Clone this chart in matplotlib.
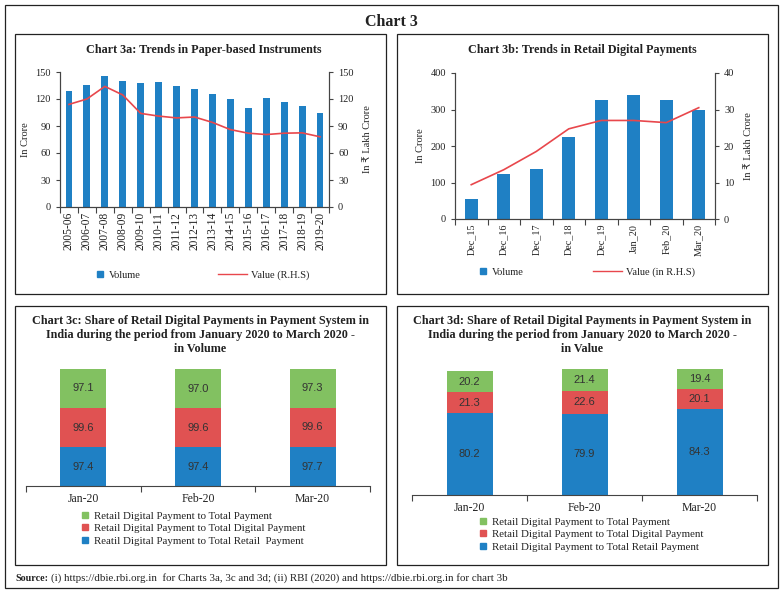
import matplotlib.pyplot as plt
from matplotlib.patches import Rectangle
from matplotlib.lines import Line2D

# Chart 3a data
years = ['2005-06', '2006-07', '2007-08', '2008-09', '2009-10', '2010-11', '2011-12',
         '2012-13', '2013-14', '2014-15', '2015-16', '2016-17', '2017-18', '2018-19', '2019-20']
paper_volume = [129, 136, 146, 140, 138, 139, 134, 131.5, 126, 120, 110, 121, 117, 112, 104]
paper_value = [114, 120, 134, 124.5, 104, 101, 99, 100, 94, 86, 82, 80.5, 82, 82.4, 78]

# Chart 3b data
periods = ['Dec_15', 'Dec_16', 'Dec_17', 'Dec_18', 'Dec_19', 'Jan_20', 'Feb_20', 'Mar_20']
digital_volume = [56, 123, 136, 224, 327, 339, 327, 300]
digital_value = [9.4, 13.5, 18.5, 24.7, 27.0, 27.0, 26.4, 30.5]

# Chart 3c / 3d data
months = ['Jan-20', 'Feb-20', 'Mar-20']
vol_retail = [97.4, 97.4, 97.7]
vol_digital = [99.6, 99.6, 99.6]
vol_total = [97.1, 97.0, 97.3]
val_retail = [80.2, 79.9, 84.3]
val_digital = [21.3, 22.6, 20.1]
val_total = [20.2, 21.4, 19.4]

BLUE = '#1f80c4'
RED = '#e05252'
GREEN = '#82c161'
LINE = '#e8474c'
SERIF = ['Liberation Serif', 'DejaVu Serif']
SANS = ['Liberation Sans', 'DejaVu Sans']
TXT = '#222222'

plt.rcParams['font.family'] = SERIF
plt.rcParams['axes.edgecolor'] = '#444444'
plt.rcParams['xtick.color'] = '#444444'
plt.rcParams['ytick.color'] = '#444444'
plt.rcParams['xtick.labelcolor'] = TXT
plt.rcParams['ytick.labelcolor'] = TXT

W, H = 783, 593
fig = plt.figure(figsize=(W / 100, H / 100), dpi=100)


def fx(x):
    return x / W


def fy(y):
    return 1 - y / H


def ax_at(l, t, r, b):
    return fig.add_axes([fx(l), fy(b), (r - l) / W, (b - t) / H])


def box(l, t, r, b):
    fig.patches.append(Rectangle((fx(l), fy(b)), (r - l) / W, (b - t) / H, fill=False,
                                 lw=0.9, edgecolor='#222222', transform=fig.transFigure))


def legend_item(handle, label, x, y, hl, size=7.5):
    # one legend entry; x is the left edge of the handle, y the middle of the row
    fig.legend([handle], [label], loc='center left', bbox_to_anchor=(fx(x), fy(y)),
               frameon=False, fontsize=size, handlelength=hl, handletextpad=0.4,
               borderpad=0, borderaxespad=0, labelcolor=TXT)


box(5, 5, 778, 588)
box(15, 34, 386, 294)
box(397, 34, 768, 294)
box(15, 306, 386, 565)
box(397, 306, 768, 565)

fig.text(fx(391), fy(22), 'Chart 3', ha='center', va='center', fontsize=11.5,
         fontweight='bold', color=TXT)


def boundary_ticks(ax, n):
    ax.set_xticks(range(n))
    ax.set_xticks([i - 0.5 for i in range(n + 1)], minor=True)
    ax.tick_params(axis='x', which='major', length=0)
    ax.tick_params(axis='x', which='minor', length=4, width=0.8, direction='out')
    ax.set_xlim(-0.5, n - 0.5)


vol_handle = Line2D([], [], marker='s', ls='none', color=BLUE, markersize=5)
val_handle = Line2D([], [], color=LINE, lw=1)

# ---- Chart 3a ----
ax = ax_at(60, 72, 329, 207)
x = range(len(years))
ax.bar(x, paper_volume, width=0.38, color=BLUE)
ax.set_ylim(0, 150)
ax.set_yticks(range(0, 151, 30))
boundary_ticks(ax, len(years))
ax.set_xticklabels(years, rotation=90, fontsize=8.3)
ax.tick_params(axis='y', labelsize=7.5, length=3, width=0.8)
ax.spines['top'].set_visible(False)
ax.set_ylabel('In Crore', fontsize=7.5, color=TXT, labelpad=4)
ax2 = ax.twinx()
ax2.plot(x, paper_value, color=LINE, lw=1.2)
ax2.set_ylim(0, 150)
ax2.set_yticks(range(0, 151, 30))
ax2.tick_params(axis='y', labelsize=7.5, length=3, width=0.8)
ax2.spines['top'].set_visible(False)
ax2.set_ylabel('In ₹ Lakh Crore', fontsize=7.5, color=TXT, labelpad=7,
               family=['Liberation Serif', 'DejaVu Sans'])
fig.text(fx(204), fy(50), 'Chart 3a: Trends in Paper-based Instruments', ha='center',
         va='center', fontsize=8.7, fontweight='bold', color=TXT)
legend_item(vol_handle, 'Volume', 96, 275, 0.8)
legend_item(val_handle, 'Value (R.H.S)', 218, 275, 2.8)

# ---- Chart 3b ----
ax = ax_at(455, 73, 715, 219)
x = range(len(periods))
ax.bar(x, digital_volume, width=0.4, color=BLUE)
ax.set_ylim(0, 400)
ax.set_yticks(range(0, 401, 100))
boundary_ticks(ax, len(periods))
ax.set_xticklabels(periods, rotation=90, fontsize=7.3)
ax.tick_params(axis='y', labelsize=7.5, length=3, width=0.8)
ax.spines['top'].set_visible(False)
ax.set_ylabel('In Crore', fontsize=7.5, color=TXT, labelpad=4)
ax2 = ax.twinx()
ax2.plot(x, digital_value, color=LINE, lw=1.2)
ax2.set_ylim(0, 40)
ax2.set_yticks(range(0, 41, 10))
ax2.tick_params(axis='y', labelsize=7.5, length=3, width=0.8)
ax2.spines['top'].set_visible(False)
ax2.set_ylabel('In ₹ Lakh Crore', fontsize=7.5, color=TXT, labelpad=7,
               family=['Liberation Serif', 'DejaVu Sans'])
fig.text(fx(582), fy(50), 'Chart 3b: Trends in Retail Digital Payments', ha='center',
         va='center', fontsize=8.7, fontweight='bold', color=TXT)
legend_item(vol_handle, 'Volume', 479, 272, 0.8)
legend_item(val_handle, 'Value (in R.H.S)', 593, 272, 2.8)


# ---- Chart 3c / 3d ----
def share_chart(ax, retail, digital, total, top):
    x = range(len(months))
    ax.bar(x, retail, width=0.4, color=BLUE)
    ax.bar(x, digital, width=0.4, bottom=retail, color=RED)
    base = [a + b for a, b in zip(retail, digital)]
    ax.bar(x, total, width=0.4, bottom=base, color=GREEN)
    for i in x:
        ax.text(i, retail[i] / 2, f'{retail[i]:.1f}', ha='center', va='center',
                fontsize=8, family=SANS, color='#333333')
        ax.text(i, retail[i] + digital[i] / 2, f'{digital[i]:.1f}', ha='center',
                va='center', fontsize=8, family=SANS, color='#333333')
        ax.text(i, base[i] + total[i] / 2, f'{total[i]:.1f}', ha='center', va='center',
                fontsize=8, family=SANS, color='#333333')
    ax.set_ylim(0, top)
    boundary_ticks(ax, len(months))
    ax.set_xticklabels(months, fontsize=8.5)
    ax.tick_params(axis='x', which='major', pad=5)
    ax.set_yticks([])
    for s in ['top', 'left', 'right']:
        ax.spines[s].set_visible(False)


labels_c = ['Retail Digital Payment to Total Payment',
            'Retail Digital Payment to Total Digital Payment',
            'Reatil Digital Payment to Total Retail  Payment']
labels_d = ['Retail Digital Payment to Total Payment',
            'Retail Digital Payment to Total Digital Payment',
            'Retail Digital Payment to Total Retail Payment']
h3 = [Line2D([], [], marker='s', ls='none', color=c, markersize=5) for c in (GREEN, RED, BLUE)]

ax = ax_at(26, 369, 370, 486)
share_chart(ax, vol_retail, vol_digital, vol_total,
            max(a + b + c for a, b, c in zip(vol_retail, vol_digital, vol_total)))
fig.text(fx(200), fy(335), 'Chart 3c: Share of Retail Digital Payments in Payment System in\n'
         'India during the period from January 2020 to March 2020 -\nin Volume',
         ha='center', va='center', fontsize=8.7, fontweight='bold', color=TXT, linespacing=1.25)
fig.legend(h3, labels_c, loc='upper left', bbox_to_anchor=(fx(81), fy(511)), frameon=False,
           fontsize=7.8, handlelength=0.8, handletextpad=0.4, labelspacing=0.28,
           borderpad=0, borderaxespad=0, labelcolor=TXT)

ax = ax_at(412, 369, 757, 495)
share_chart(ax, val_retail, val_digital, val_total,
            max(a + b + c for a, b, c in zip(val_retail, val_digital, val_total)))
fig.text(fx(582), fy(335), 'Chart 3d: Share of Retail Digital Payments in Payment System in\n'
         'India during the period from January 2020 to March 2020 -\nin Value',
         ha='center', va='center', fontsize=8.7, fontweight='bold', color=TXT, linespacing=1.25)
fig.legend(h3, labels_d, loc='upper left', bbox_to_anchor=(fx(479), fy(517)), frameon=False,
           fontsize=7.8, handlelength=0.8, handletextpad=0.4, labelspacing=0.28,
           borderpad=0, borderaxespad=0, labelcolor=TXT)

# source note
fig.text(fx(15), fy(581), 'Source:', ha='left', va='baseline', fontsize=7.2,
         fontweight='bold', color=TXT)
fig.text(fx(51), fy(581), '(i) https://dbie.rbi.org.in  for Charts 3a, 3c and 3d; (ii) RBI (2020) '
         'and https://dbie.rbi.org.in for chart 3b', ha='left', va='baseline', fontsize=7.8,
         color=TXT)

fig.savefig('out.png', dpi=100)
